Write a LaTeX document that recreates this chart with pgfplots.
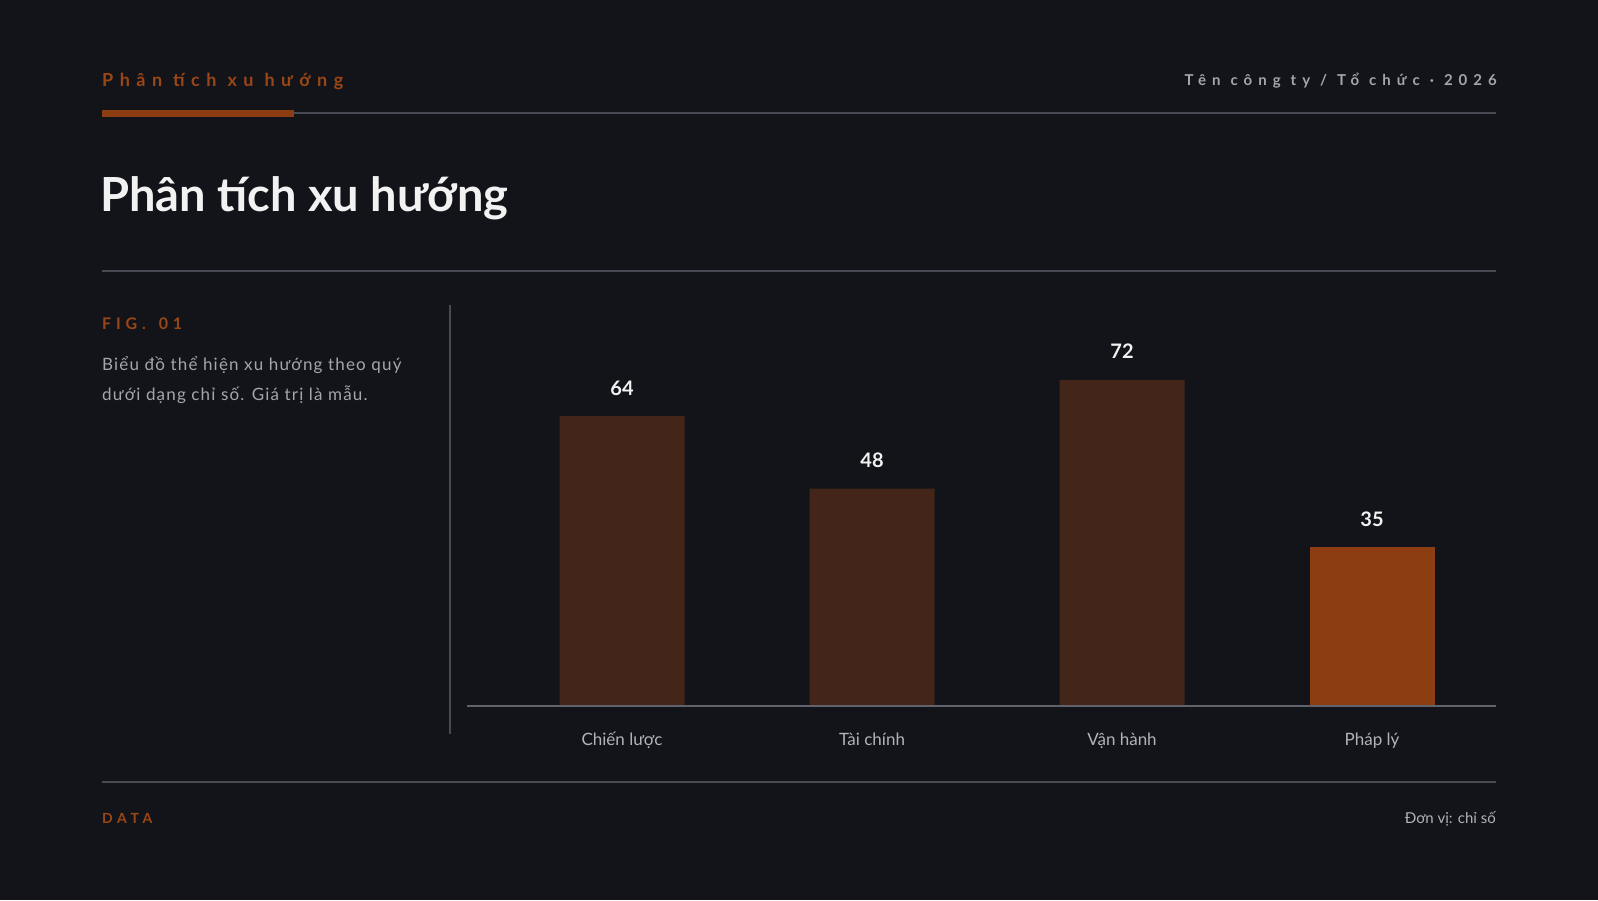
\documentclass[border=0pt]{standalone}
\usepackage{pgfplots}
\pgfplotsset{compat=1.18}
\usepackage{fontspec}
\setmainfont{Lato}
\definecolor{bg}{HTML}{121419}
\definecolor{bardark}{HTML}{43251A}
\definecolor{baracc}{HTML}{8C3E12}
\definecolor{accent}{HTML}{9A4616}
\definecolor{graytxt}{HTML}{A3A6AE}
\definecolor{lbl}{HTML}{B0B3BA}
\definecolor{rule}{HTML}{474A52}
\definecolor{axisc}{HTML}{60636B}
\definecolor{titlec}{HTML}{F2F2F2}
\newcommand\hdrleft{\fontsize{18}{21}\selectfont\bfseries\addfontfeature{LetterSpace=36}}
\newcommand\hdrright{\fontsize{15}{18}\selectfont\bfseries\addfontfeature{LetterSpace=40}}
\newcommand\figfont{\fontsize{16}{19}\selectfont\bfseries\addfontfeature{LetterSpace=30}}
\newcommand\gapL{\hspace{11pt}}
\newcommand\gapR{\hspace{10pt}}
\begin{document}
\begin{tikzpicture}[x=1pt,y=-1pt]
\fill[bg] (0,0) rectangle (1598,900);
% header
\node[anchor=base west, inner sep=0, text=accent, font=\hdrleft] at (102,86) {Phân\gapL tích\gapL xu\gapL hướng};
\node[anchor=base east, inner sep=0, text=graytxt, font=\hdrright] at (1497,85) {Tên\gapR công\gapR ty\gapR /\gapR Tổ\gapR chức\gapR ·\gapR 2026};
\fill[baracc] (102,109.5) rectangle (294,116.5);
\draw[rule, line width=1.5pt] (294,113) -- (1496,113);
% title
\node[anchor=base west, inner sep=0, text=titlec, font=\fontsize{47}{56}\selectfont\bfseries] at (100,211) {Phân tích xu hướng};
\draw[rule, line width=1.5pt] (102,271) -- (1496,271);
% left panel
\node[anchor=base west, inner sep=0, text=accent, font=\figfont] at (102,329) {FIG.\hspace{13pt}01};
\node[anchor=base west, inner sep=0, text=graytxt, font=\fontsize{17}{20}\selectfont\addfontfeature{LetterSpace=7}] at (102,370) {Biểu đồ thể hiện xu hướng theo quý};
\node[anchor=base west, inner sep=0, text=graytxt, font=\fontsize{17}{20}\selectfont\addfontfeature{LetterSpace=7}] at (102,400) {dưới dạng chỉ số. Giá trị là mẫu.};
\draw[rule, line width=1.5pt] (450,305) -- (450,734);
% chart
\coordinate (AX) at (497,706);
\begin{axis}[at={(AX)}, anchor=south west, scale only axis,
  width=1000pt, height=362.4pt,
  xmin=-0.5, xmax=3.5, ymin=0, ymax=80,
  axis line style={draw=none}, clip=false,
  ybar, bar width=125pt, bar shift=0pt,
  xtick={0,1,2,3}, xticklabels={Chiến lược,Tài chính,Vận hành,Pháp lý},
  ytick=\empty, major tick length=0pt,
  xticklabel style={font=\fontsize{17}{20}\selectfont, text=lbl, anchor=base, yshift=-39pt},
  /pgf/number format/assume math mode=true,
  nodes near coords,
  every node near coord/.append style={font=\fontsize{20}{24}\selectfont\bfseries, text=titlec, anchor=base, yshift=21pt},
]
\addplot[fill=bardark, draw=none] coordinates {(0,64) (1,48) (2,72)};
\addplot[fill=baracc, draw=none] coordinates {(3,35)};
\end{axis}
\draw[axisc, line width=2pt] (467,706) -- (1496,706);
% footer
\draw[rule, line width=1.5pt] (102,782) -- (1496,782);
\node[anchor=base west, inner sep=0, text=accent, font=\fontsize{14}{17}\selectfont\bfseries\addfontfeature{LetterSpace=33}] at (102,823) {DATA};
\node[anchor=base east, inner sep=0, text=lbl, font=\fontsize{15}{18}\selectfont] at (1496,823) {Đơn vị: chỉ số};
\end{tikzpicture}
\end{document}
